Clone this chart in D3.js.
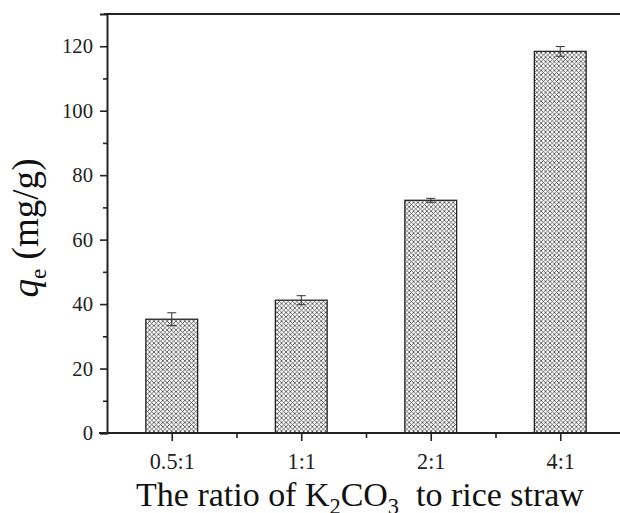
<!DOCTYPE html>
<html>
<head>
<meta charset="utf-8">
<script src="https://cdn.jsdelivr.net/npm/d3@7"></script>
<style>
  body { margin: 0; background: #fff; }
  svg { display: block; }
</style>
</head>
<body>
<svg width="620" height="513"></svg>
<script>
'use strict';

// data
let categories = ["0.5:1", "1:1", "2:1", "4:1"];
let qe = [35.3, 41.2, 72.2, 118.4];
let qeErr = [2.0, 1.4, 0.6, 1.5];
let yTicks = [0, 20, 40, 60, 80, 100, 120];
let yMinor = [10, 30, 50, 70, 90, 110];

let serif = "'Liberation Serif', 'DejaVu Serif', serif";
let svg = d3.select("svg");

let x = d3.scaleLinear().domain([0.5, 4.5]).range([107, 625]);
let y = d3.scaleLinear().domain([0, 130]).range([433, 14]);

// crosshatch fill
let defs = svg.append("defs");
let pat = defs.append("pattern")
    .attr("id", "hatch")
    .attr("patternUnits", "userSpaceOnUse")
    .attr("width", 4.4)
    .attr("height", 4.4);
pat.append("rect").attr("width", 4.4).attr("height", 4.4).attr("fill", "#fff");
pat.append("path")
    .attr("d", "M-1,-1 L5.4,5.4 M-1,5.4 L5.4,-1")
    .attr("stroke", "#3a3a3a")
    .attr("stroke-width", 0.75);

let barW = 0.4;

svg.append("g")
  .selectAll("rect")
  .data(qe)
  .join("rect")
    .attr("x", (d, i) => x(i + 1 - barW / 2))
    .attr("width", x(1 + barW / 2) - x(1 - barW / 2))
    .attr("y", d => y(d))
    .attr("height", d => y(0) - y(d))
    .attr("fill", "url(#hatch)")
    .attr("stroke", "#222")
    .attr("stroke-width", 1.3);

// error bars
let eb = svg.append("g")
    .attr("stroke", "#333")
    .attr("stroke-width", 1)
  .selectAll("g")
  .data(qe)
  .join("g");
eb.append("line")
    .attr("x1", (d, i) => x(i + 1)).attr("x2", (d, i) => x(i + 1))
    .attr("y1", (d, i) => y(d + qeErr[i])).attr("y2", (d, i) => y(d - qeErr[i]));
eb.append("line")
    .attr("x1", (d, i) => x(i + 1) - 4.5).attr("x2", (d, i) => x(i + 1) + 4.5)
    .attr("y1", (d, i) => y(d + qeErr[i])).attr("y2", (d, i) => y(d + qeErr[i]));
eb.append("line")
    .attr("x1", (d, i) => x(i + 1) - 4.5).attr("x2", (d, i) => x(i + 1) + 4.5)
    .attr("y1", (d, i) => y(d - qeErr[i])).attr("y2", (d, i) => y(d - qeErr[i]));

// axes
let yAxis = svg.append("g")
    .attr("transform", `translate(${x(0.5)},0)`)
    .call(d3.axisLeft(y).tickValues(yTicks).tickSize(7).tickPadding(7));
svg.append("g")
    .attr("transform", `translate(${x(0.5)},0)`)
    .call(d3.axisLeft(y).tickValues(yMinor).tickSize(4).tickFormat(""))
    .call(g => g.select(".domain").remove());

let xAxis = svg.append("g")
    .attr("transform", `translate(0,${y(0)})`)
    .call(d3.axisBottom(x).tickValues([1, 2, 3, 4]).tickFormat((d, i) => categories[i])
      .tickSize(8));
svg.append("g")
    .attr("transform", `translate(0,${y(0)})`)
    .call(d3.axisBottom(x).tickValues([1.5, 2.5, 3.5]).tickSize(5).tickFormat(""))
    .call(g => g.select(".domain").remove());

svg.selectAll(".domain").attr("stroke", "#222").attr("stroke-width", 2);
svg.selectAll(".tick line").attr("stroke", "#222").attr("stroke-width", 1.6);
svg.selectAll(".tick text")
    .attr("font-family", serif)
    .attr("font-size", 20)
    .attr("fill", "#222");
xAxis.selectAll(".tick text").attr("y", 36).attr("dy", 0);
xAxis.select(".domain").attr("d", `M${x(0.5) - 8},0H${x(4.5)}`);

// top frame line
svg.append("line")
    .attr("x1", x(0.5) - 3).attr("x2", x(4.5))
    .attr("y1", y(130)).attr("y2", y(130))
    .attr("stroke", "#222").attr("stroke-width", 2);

// axis titles
let yt = svg.append("text")
    .attr("transform", `translate(38,228) rotate(-90)`)
    .attr("text-anchor", "middle")
    .attr("font-family", serif)
    .attr("font-size", 32)
    .attr("fill", "#111");
yt.append("tspan").attr("font-style", "italic").text("q");
yt.append("tspan").attr("font-size", 20).attr("dy", 8).text("e");
yt.append("tspan").attr("dy", -8).text(" (mg/g)");

let xt = svg.append("text")
    .attr("x", 360).attr("y", 506)
    .attr("text-anchor", "middle")
    .attr("font-family", serif)
    .attr("font-size", 35)
    .attr("fill", "#111");
xt.append("tspan").text("The ratio of K");
xt.append("tspan").attr("font-size", 23).attr("dy", 8).text("2");
xt.append("tspan").attr("dy", -8).text("CO");
xt.append("tspan").attr("font-size", 23).attr("dy", 8).text("3");
xt.append("tspan").attr("dy", -8).text("\u00a0 to rice straw");

// fit texts to the widths seen in the picture
function fit(sel, target) {
  let w = sel.node().getComputedTextLength();
  let k = target / w;
  sel.attr("font-size", +sel.attr("font-size") * k);
  sel.selectAll("tspan[font-size]").each(function() {
    d3.select(this).attr("font-size", +d3.select(this).attr("font-size") * k);
  });
  return k;
}
fit(xt, 448);
fit(yt, 139);

let ky = 31 / yAxis.selectAll(".tick text").filter(d => d === 100).node().getComputedTextLength();
yAxis.selectAll(".tick text").attr("font-size", 20 * ky);
let kx = 45 / xAxis.selectAll(".tick text").filter(d => d === 1).node().getComputedTextLength();
xAxis.selectAll(".tick text").attr("font-size", 20 * kx);
</script>
</body>
</html>
